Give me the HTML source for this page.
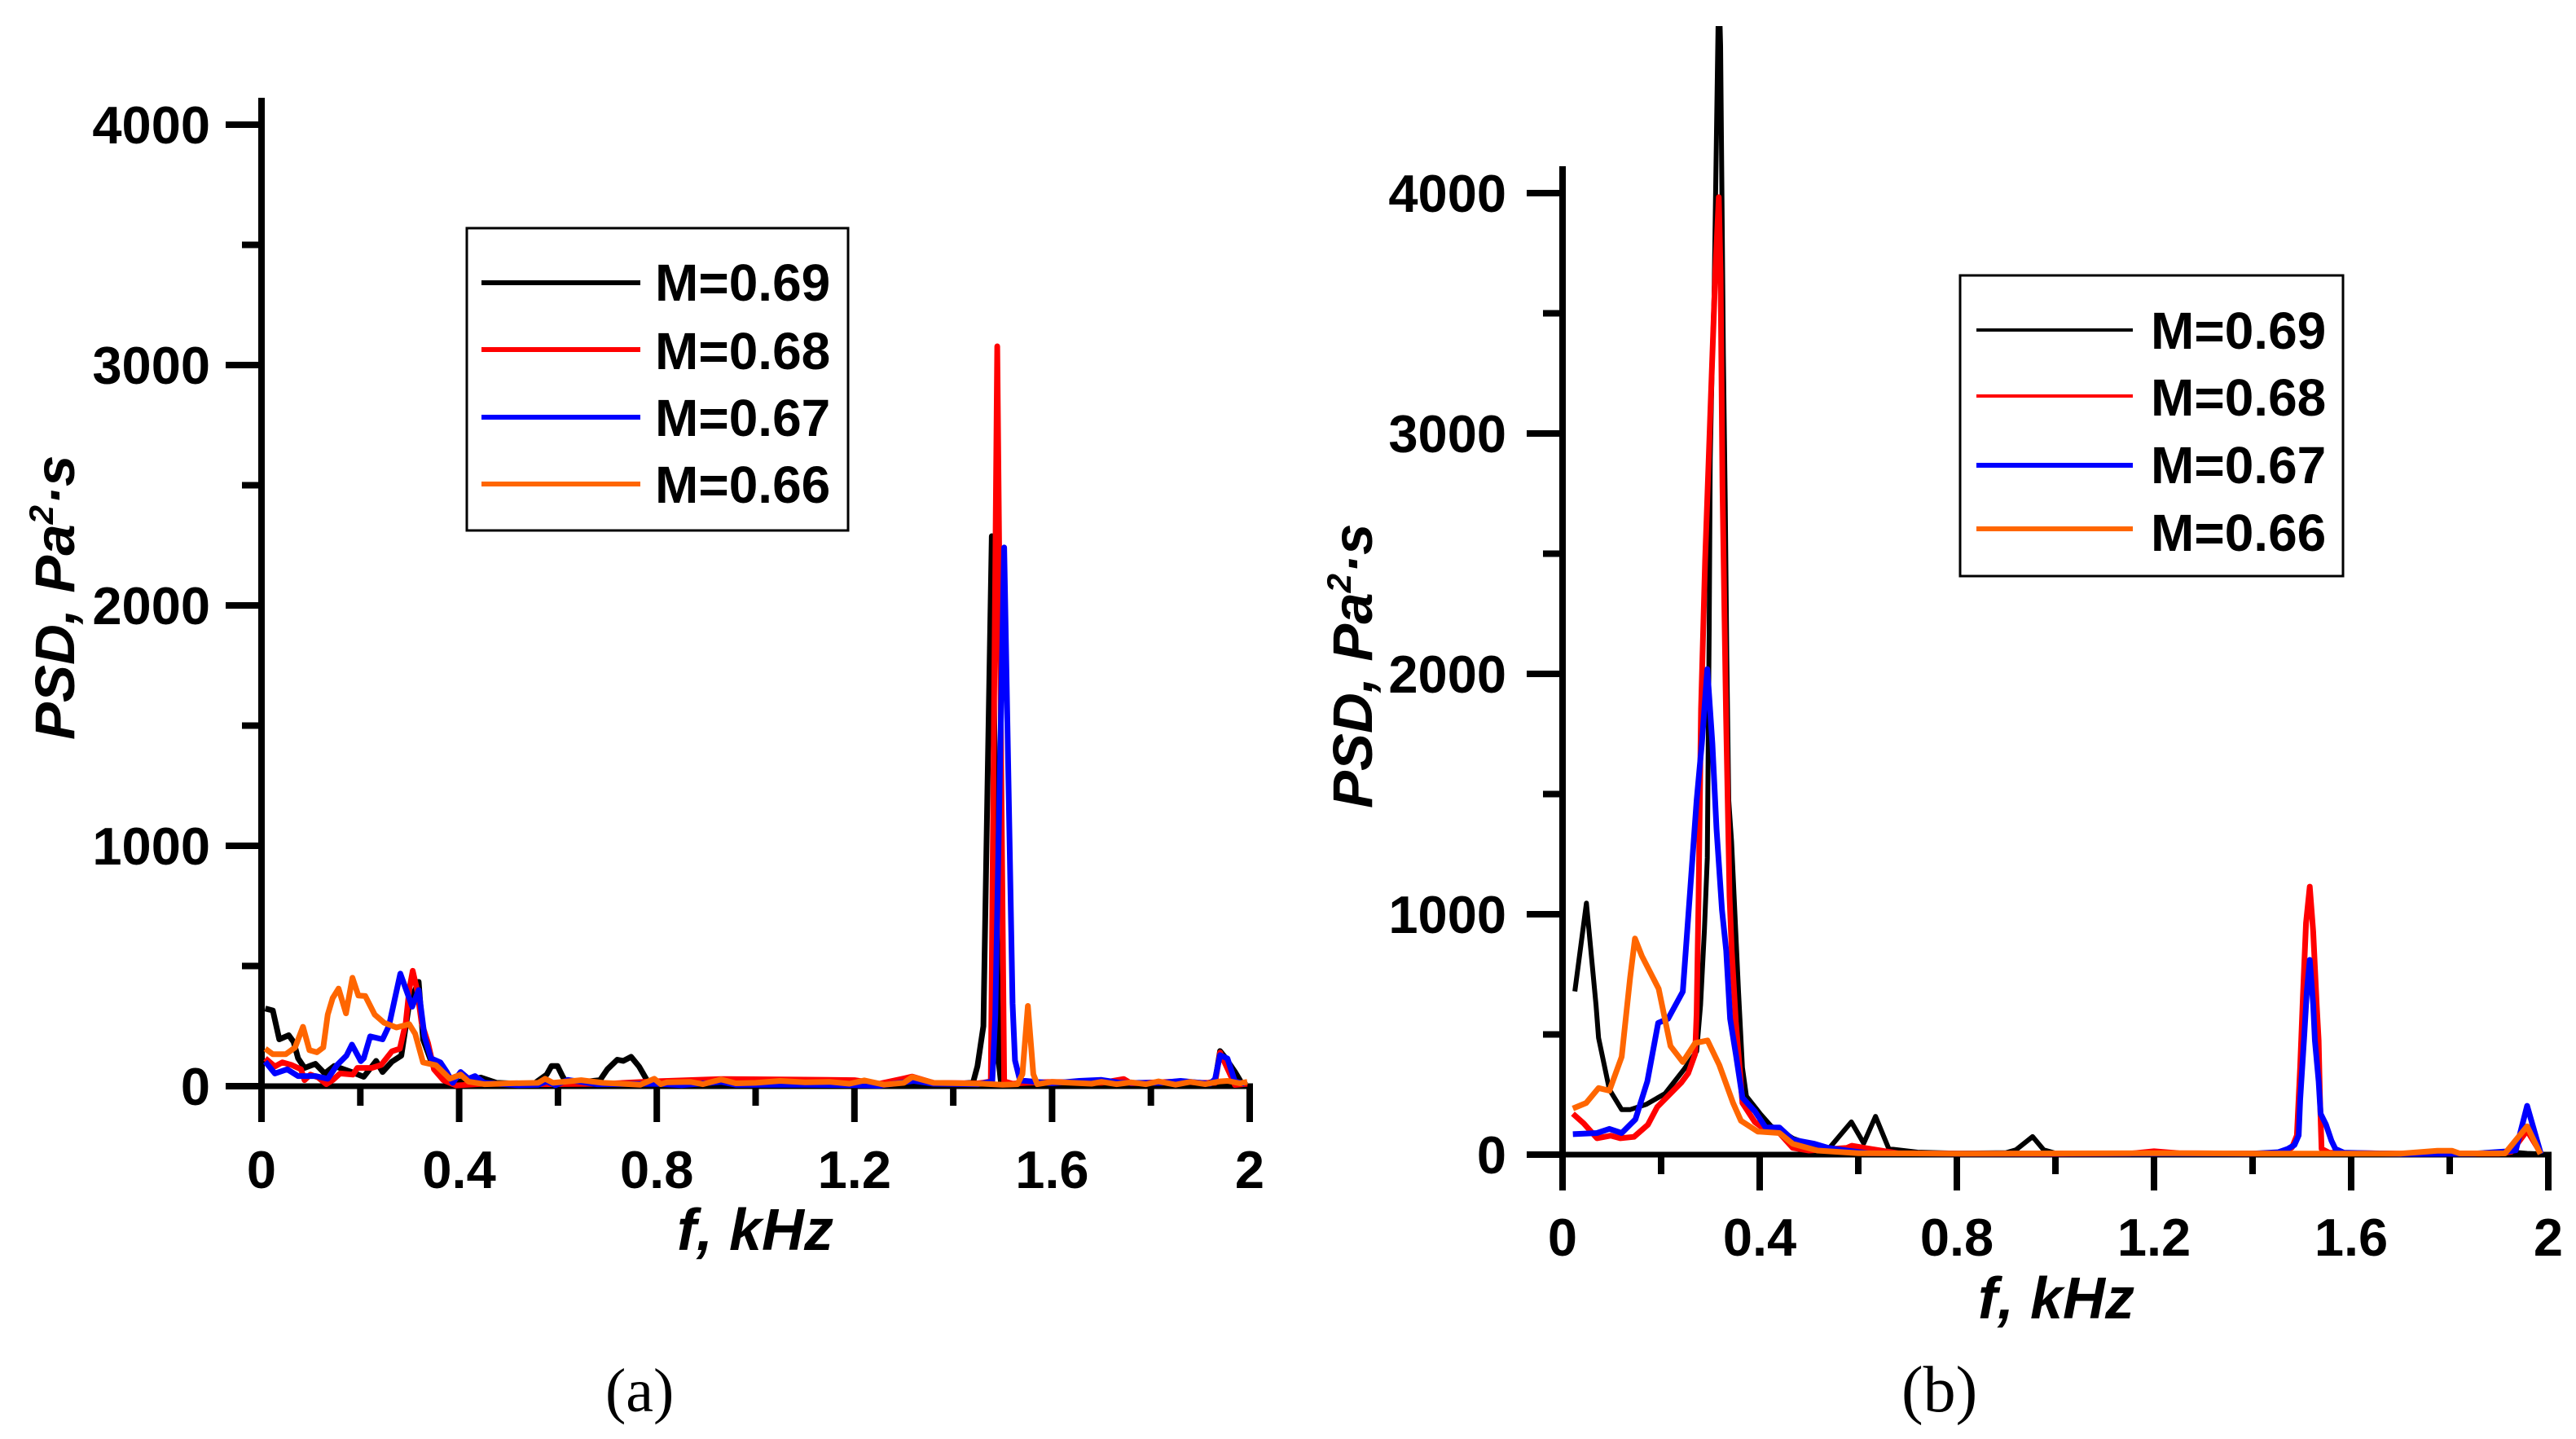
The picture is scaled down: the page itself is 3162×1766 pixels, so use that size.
<!DOCTYPE html>
<html lang="en">
<head>
<meta charset="utf-8">
<title>PSD charts</title>
<style>
html,body{margin:0;padding:0;background:#fff;}
body{width:3162px;height:1766px;overflow:hidden;}
svg{display:block;}
.tick{font:bold 65px "Liberation Sans",sans-serif;fill:#000;}
.leg{font:bold 64px "Liberation Sans",sans-serif;fill:#000;}
.title{font:italic bold 72px "Liberation Sans",sans-serif;fill:#000;}
.ytitle{font:italic bold 69px "Liberation Sans",sans-serif;fill:#000;}
.cap{font:76px "Liberation Serif",serif;fill:#000;}
</style>
</head>
<body>
<svg id="root" xmlns="http://www.w3.org/2000/svg" width="3162" height="1766" viewBox="0 0 3162 1766">
  <defs><clipPath id="clipB"><rect x="1800" y="32" width="1362" height="1500"/></clipPath></defs>
  <rect x="0" y="0" width="3162" height="1766" fill="#fff"/>
  <g id="chartA"></g>
  <g id="chartB"></g>

  <g>
    <rect x="573" y="280" width="468" height="371" fill="#fff" stroke="#000" stroke-width="3"/>
    <line x1="591" y1="347" x2="786" y2="347" stroke="#000" stroke-width="6"/>
    <text class="leg" x="804" y="369">M=0.69</text>
    <line x1="591" y1="429" x2="786" y2="429" stroke="#f00" stroke-width="6"/>
    <text class="leg" x="804" y="453">M=0.68</text>
    <line x1="591" y1="512" x2="786" y2="512" stroke="#00f" stroke-width="6"/>
    <text class="leg" x="804" y="535">M=0.67</text>
    <line x1="591" y1="594" x2="786" y2="594" stroke="#f60" stroke-width="6"/>
    <text class="leg" x="804" y="617">M=0.66</text>
  </g>

  <g>
    <rect x="2406" y="338" width="470" height="369" fill="#fff" stroke="#000" stroke-width="3"/>
    <line x1="2426" y1="405" x2="2618" y2="405" stroke="#000" stroke-width="4"/>
    <text class="leg" x="2640" y="428">M=0.69</text>
    <line x1="2426" y1="486" x2="2618" y2="486" stroke="#f00" stroke-width="4"/>
    <text class="leg" x="2640" y="510">M=0.68</text>
    <line x1="2426" y1="571" x2="2618" y2="571" stroke="#00f" stroke-width="6"/>
    <text class="leg" x="2640" y="593">M=0.67</text>
    <line x1="2426" y1="649" x2="2618" y2="649" stroke="#f60" stroke-width="6"/>
    <text class="leg" x="2640" y="676">M=0.66</text>
  </g>

  <text class="title" x="831" y="1534">f, kHz</text>
  <text class="title" x="2428" y="1618">f, kHz</text>
  <text class="ytitle" transform="translate(91,908) rotate(-90)">PSD, Pa<tspan font-size="42" dy="-26">2</tspan><tspan dy="26">·s</tspan></text>
  <text class="ytitle" transform="translate(1684,992) rotate(-90)">PSD, Pa<tspan font-size="42" dy="-26">2</tspan><tspan dy="26">·s</tspan></text>
  <text class="cap" x="743" y="1732">(a)</text>
  <text class="cap" x="2334" y="1732" font-size="80" style="font-size:80px">(b)</text>
</svg>
<script>
var xMajorValues = [0, 0.4, 0.8, 1.2, 1.6, 2];
var xMajorLabels = ['0', '0.4', '0.8', '1.2', '1.6', '2'];
var xMinorValues = [0.2, 0.6, 1.0, 1.4, 1.8];
var yMajorValues = [0, 1000, 2000, 3000, 4000];
var yMajorLabels = ['0', '1000', '2000', '3000', '4000'];
var yMinorValues = [500, 1500, 2500, 3500];

var a69F = [.0076,.023,.036,.055,.065,.074,.087,.109,.128,.147,.185,.207,.232,.245,.264,.283,.299,.318,.327,.343,.362,.387,.444,.476,.55,.577,.587,.599,.609,.618,.685,.70,.72,.732,.748,.764,.78,.792,.85,.9,1.0,1.2,1.4,1.44,1.449,1.461,1.478,1.492,1.497,1.55,1.6,1.7,1.8,1.9,1.93,1.94,1.95,1.97,1.985,1.995];
var a69V = [323,315,195,212,184,116,76,93,53,84,57,39,105,59,102,127,343,434,195,105,53,14,36,14,8,48,84,84,42,11,25,70,110,105,122,82,25,8,5,6,4,6,8,15,83,250,2288,100,8,5,4,6,5,6,20,146,120,60,8,5];

var a68F = [.0076,.027,.042,.061,.08,.087,.099,.115,.131,.144,.159,.185,.194,.223,.242,.264,.28,.292,.299,.306,.315,.324,.337,.349,.368,.394,.45,.55,.7,.793,.93,1.05,1.2,1.25,1.3,1.317,1.36,1.45,1.462,1.476,1.489,1.503,1.52,1.55,1.6,1.7,1.745,1.76,1.86,1.9,1.93,1.94,1.958,1.97,1.995];
var a68V = [116,82,99,88,70,25,48,36,8,25,53,48,76,76,88,145,156,264,400,480,400,264,179,70,25,3,10,8,10,20,30,28,25,10,32,40,14,12,15,20,3078,20,10,14,18,14,30,12,20,14,14,140,60,5,10];

var a67F = [.0076,.027,.052,.074,.109,.134,.153,.172,.183,.201,.207,.22,.245,.258,.27,.281,.305,.318,.33,.343,.362,.375,.387,.403,.419,.432,.451,.52,.56,.577,.595,.62,.68,.8,.85,.93,.96,1.1,1.2,1.25,1.32,1.36,1.45,1.479,1.485,1.503,1.52,1.525,1.535,1.6,1.655,1.7,1.74,1.82,1.86,1.92,1.93,1.94,1.955,1.97,1.99];
var a67V = [102,53,70,42,42,31,88,127,173,104,116,207,195,252,366,468,331,400,207,116,99,59,14,59,31,42,14,4,6,20,4,26,8,10,4,18,6,6,4,2,22,10,8,20,297,2241,344,107,24,12,22,26,14,14,22,10,30,129,115,20,10];

var a66F = [.0076,.023,.049,.068,.084,.097,.112,.125,.134,.144,.156,.171,.184,.196,.21,.229,.248,.273,.299,.311,.327,.353,.381,.403,.419,.451,.5,.56,.574,.59,.647,.69,.767,.795,.808,.82,.868,.893,.93,.96,1.0,1.05,1.1,1.15,1.19,1.22,1.26,1.3,1.317,1.36,1.42,1.46,1.5,1.53,1.54,1.551,1.562,1.57,1.6,1.64,1.68,1.7,1.73,1.76,1.79,1.815,1.85,1.88,1.91,1.94,1.955,1.98,1.995];
var a66V = [156,133,133,161,247,150,141,161,298,366,406,303,451,377,375,298,264,244,258,218,99,87,31,48,19,8,12,14,31,14,25,14,6,31,8,16,18,8,28,12,14,22,16,18,10,24,6,14,38,14,12,10,6,8,50,334,50,8,18,14,10,18,8,16,8,20,6,18,8,20,22,12,18];

var b69F = [.025,.0485,.068,.073,.095,.12,.137,.17,.208,.247,.272,.28,.288,.2937,.2975,.2997,.304,.3074,.317,.3207,.3234,.3262,.33,.3333,.3372,.343,.357,.365,.373,.401,.423,.451,.467,.522,.5416,.586,.611,.635,.662,.72,.8,.9,.92,.9537,.976,1.0,1.2,1.4,1.48,1.7,1.9,1.94,1.957,1.985];
var b69V = [679,1046,622,486,271,187,187,209,254,356,430,622,939,1235,2186,2900,3328,3566,4900,4612,3970,3328,2710,2068,1473,1300,678,362,243,170,119,90,68,28,28,136,47,159,24,10,6,8,20,75,20,6,5,4,5,4,4,8,5,3];

var b68F = [.021,.043,.07,.098,.117,.145,.173,.192,.241,.255,.269,.272,.276,.281,.2893,.3003,.3102,.317,.3207,.3245,.3317,.3388,.3433,.3515,.357,.365,.39,.412,.44,.467,.5,.577,.587,.627,.68,.8,1.0,1.15,1.2,1.25,1.4,1.46,1.48,1.49,1.4965,1.502,1.5085,1.516,1.523,1.53,1.534,1.5365,1.54,1.555,1.7,1.9,1.925,1.957,1.985];
var b68V = [170,130,68,79,68,74,124,198,300,339,418,588,1074,1854,2471,3115,3685,3983,3662,2782,1830,1074,848,554,418,215,136,102,90,28,17,28,37,23,6,4,3,4,14,6,4,5,30,80,363,650,963,1115,928,624,475,250,24,8,4,4,12,100,5];

var b67F = [.021,.07,.095,.12,.148,.172,.194,.214,.244,.258,.272,.2826,.2937,.304,.3124,.3234,.332,.34,.3515,.365,.39,.412,.44,.467,.511,.539,.577,.62,.8,1.1,1.4,1.452,1.4716,1.485,1.4935,1.4965,1.5047,1.51,1.516,1.523,1.5265,1.534,1.538,1.549,1.56,1.568,1.585,1.7,1.85,1.92,1.934,1.957,1.985];
var b67V = [85,90,107,90,147,305,548,565,678,1074,1474,1711,2020,1711,1355,1018,848,565,418,237,181,113,113,62,45,28,17,6,4,4,4,10,24,40,80,227,488,678,810,624,475,305,170,125,58,24,8,3,4,14,18,203,3];

var b66F = [.021,.048,.073,.095,.12,.137,.147,.161,.195,.219,.244,.269,.294,.318,.346,.362,.396,.44,.467,.517,.6,.8,1.2,1.5,1.7,1.775,1.805,1.82,1.912,1.957,1.984];
var b66V = [192,215,277,266,407,735,899,826,690,452,385,464,475,373,215,141,96,90,45,17,6,4,6,4,4,16,16,5,5,118,3];

var NS = 'http://www.w3.org/2000/svg';

function xScaleA(f) { return 321 + 606.5 * f; }
function yScaleA(v) { return 1333 - 0.295 * v; }
function xScaleB(f) { return 1918 + 605 * f; }
function yScaleB(v) { return 1417 - 0.295 * v; }

function addLine(parent, x1, y1, x2, y2, width, name) {
  var el = document.createElementNS(NS, 'line');
  el.setAttribute('x1', x1);
  el.setAttribute('y1', y1);
  el.setAttribute('x2', x2);
  el.setAttribute('y2', y2);
  el.setAttribute('stroke', '#000');
  el.setAttribute('stroke-width', width);
  
  
  parent.appendChild(el);
}

function addLabel(parent, x, y, anchor, str, name) {
  var el = document.createElementNS(NS, 'text');
  el.setAttribute('class', 'tick');
  el.setAttribute('x', x);
  el.setAttribute('y', y);
  el.setAttribute('text-anchor', anchor);
  
  
  el.textContent = str;
  parent.appendChild(el);
}

function addSeries(parent, fs, vs, xs, ys, color, width, name, clip) {
  var pts = fs.map(function (f, i) { return xs(f).toFixed(1) + ',' + ys(vs[i]).toFixed(1); }).join(' ');
  var el = document.createElementNS(NS, 'polyline');
  el.setAttribute('points', pts);
  el.setAttribute('fill', 'none');
  el.setAttribute('stroke', color);
  el.setAttribute('stroke-width', width);
  el.setAttribute('stroke-linejoin', 'round');
  if (clip) { el.setAttribute('clip-path', clip); }
  
  
  parent.appendChild(el);
}

function drawAxes(g, xs, ys, yTop, labelRight, xLabelY, suffix) {
  var x0 = xs(0), y0 = ys(0);
  addLine(g, x0, yTop, x0, y0 + 44, 8, 'y-axis-' + suffix);
  addLine(g, x0 - 44, y0, xs(2) + 4, y0, 7, 'x-axis-' + suffix);
  xMajorValues.forEach(function (v, i) {
    addLine(g, xs(v), y0, xs(v), y0 + 44, 8, 'x-major-tick-' + suffix);
    addLabel(g, xs(v), xLabelY, 'middle', xMajorLabels[i], 'x-tick-label-' + suffix);
  });
  xMinorValues.forEach(function (v) {
    addLine(g, xs(v), y0, xs(v), y0 + 24, 8, 'x-minor-tick-' + suffix);
  });
  yMajorValues.forEach(function (v, i) {
    addLine(g, x0 - 44, ys(v), x0, ys(v), 8, 'y-major-tick-' + suffix);
    addLabel(g, labelRight, ys(v) + 23, 'end', yMajorLabels[i], 'y-tick-label-' + suffix);
  });
  yMinorValues.forEach(function (v) {
    addLine(g, x0 - 24, ys(v), x0, ys(v), 8, 'y-minor-tick-' + suffix);
  });
}

var gA = document.getElementById('chartA');
var gB = document.getElementById('chartB');

drawAxes(gA, xScaleA, yScaleA, 120, 258, 1458, 'a');
addSeries(gA, a69F, a69V, xScaleA, yScaleA, '#000', 7, 'series-a-m069');
addSeries(gA, a68F, a68V, xScaleA, yScaleA, '#f00', 7, 'series-a-m068');
addSeries(gA, a67F, a67V, xScaleA, yScaleA, '#00f', 7, 'series-a-m067');
addSeries(gA, a66F, a66V, xScaleA, yScaleA, '#f60', 7, 'series-a-m066');

drawAxes(gB, xScaleB, yScaleB, 204, 1849, 1541, 'b');
addSeries(gB, b69F, b69V, xScaleB, yScaleB, '#000', 6, 'series-b-m069', 'url(#clipB)');
addSeries(gB, b68F, b68V, xScaleB, yScaleB, '#f00', 7, 'series-b-m068');
addSeries(gB, b67F, b67V, xScaleB, yScaleB, '#00f', 7, 'series-b-m067');
addSeries(gB, b66F, b66V, xScaleB, yScaleB, '#f60', 7, 'series-b-m066');
</script>
</body>
</html>
